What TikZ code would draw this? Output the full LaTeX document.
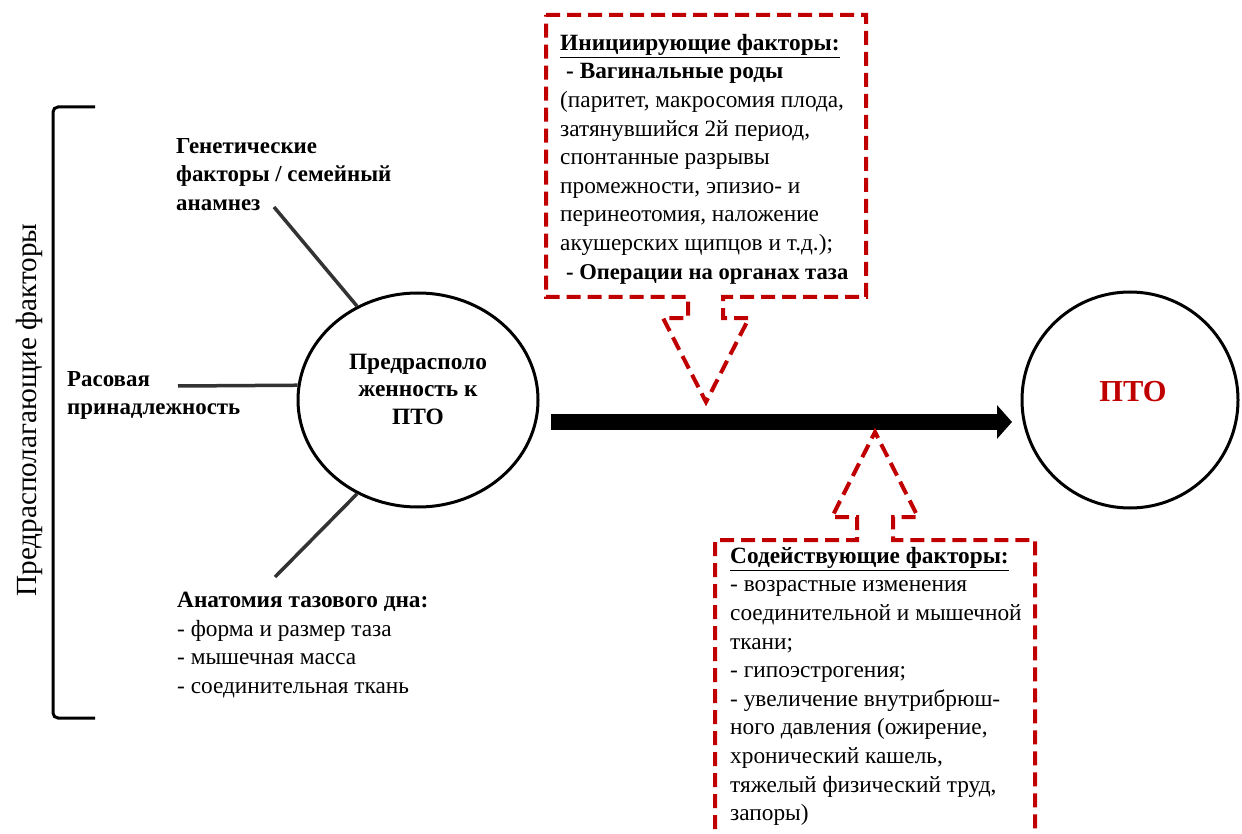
\documentclass[tikz,border=0pt]{standalone}
\usepackage{fontspec}
\setmainfont{Liberation Serif}
\usetikzlibrary{shapes.geometric,arrows.meta}
\definecolor{dred}{RGB}{192,0,0}
\begin{document}
\begin{tikzpicture}[x=1pt,y=-1pt,
  txt/.style={anchor=north west,inner sep=0pt,align=left,font=\fontsize{23.3}{28.6}\selectfont},
  lbl/.style={anchor=north west,inner sep=0pt,align=left,font=\fontsize{22.9}{28.6}\selectfont\bfseries},
  spoke/.style={line width=3.5pt,black!80},
  callout/.style={dred,line width=4pt,dash pattern=on 14pt off 7pt},
  ring/.style={draw,line width=3pt,inner sep=0pt},
  bigarrow/.style={line width=16pt,-{Triangle[length=15pt,width=33pt]}}
]
\useasboundingbox (0,0) rectangle (1242,834);
\clip (0,0) rectangle (1242,834);

% bracket and rotated title
\draw[line width=3pt, rounded corners=5pt] (95,107) -- (53,107) -- (53,718) -- (95,718);
\node[rotate=90,font=\fontsize{29.2}{29.2}\selectfont] (ttl) at (29,410) {Предрасполагающие факторы};

% circles
\node (pre) [ellipse, ring, minimum width=240pt, minimum height=214pt] at (418,400) {};
\node (pretxt) [font=\fontsize{23.4}{27.5}\selectfont\bfseries, align=center, inner sep=0pt] at (418,389) {Предрасполо\\женность к\\ПТО};
\node (pto) [circle, ring, minimum size=216pt] at (1130,400) {};
\node (ptotxt) [font=\fontsize{30.5}{30.5}\selectfont\bfseries, text=dred, inner sep=0pt] at (1133,392) {ПТО};

% spokes
\coordinate (g) at (274,207);
\coordinate (r) at (178,386);
\coordinate (a) at (275,577);
\draw[spoke] (g) -- (pre.123);
\draw[spoke] (r) -- (pre.173);
\draw[spoke] (a) -- (pre.237);

% labels
\node[lbl] (gen) at (176,138) {Генетические\\факторы / семейный\\анамнез};
\node[lbl] (race) at (67,371) {Расовая\\принадлежность};
\node[txt] (anat) at (177,592) {\textbf{Анатомия тазового дна:}\\- форма и размер таза\\- мышечная масса\\- соединительная ткань};

% main arrow
\coordinate (s) at (551,422);
\coordinate (e) at (1012,422);
\draw[bigarrow] (s) -- (e);

% top callout
\draw[callout] (546,15) -- (866,15) -- (866,297) -- (723,297) -- (723,318) -- (749,318) -- (706,402) -- (663,318) -- (688,318) -- (688,297) -- (546,297) -- cycle;
\node[txt] (init) at (560,34) {\textbf{\underline{Инициирующие факторы:}}\\
\hspace*{6pt}\textbf{- Вагинальные роды}\\
(паритет, макросомия плода,\\
затянувшийся 2й период,\\
спонтанные разрывы\\
промежности, эпизио- и\\
перинеотомия, наложение\\
акушерских щипцов и т.д.);\\
\hspace*{6pt}{\fontsize{22.6}{28.6}\selectfont\bfseries - Операции на органах таза}};

% bottom callout
\draw[callout] (715,850) -- (715,540) -- (857,540) -- (857,517) -- (832,517) -- (875,432) -- (918,517) -- (893,517) -- (893,540) -- (1035,540) -- (1035,850);
\node[txt] (contr) at (730,547) {\textbf{\underline{Содействующие факторы:}}\\
- возрастные изменения\\
соединительной и мышечной\\
ткани;\\
- гипоэстрогения;\\
- увеличение внутрибрюш-\\
ного давления (ожирение,\\
хронический кашель,\\
тяжелый физический труд,\\
запоры)};
\end{tikzpicture}
\end{document}
